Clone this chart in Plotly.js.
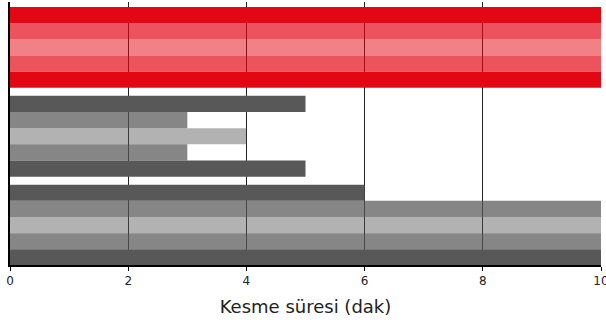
<!DOCTYPE html>
<html>
<head>
<meta charset="utf-8">
<script src="https://cdn.plot.ly/plotly-3.0.1.min.js"></script>
<style>html,body{margin:0;padding:0;background:#fff;}#chart{width:606px;height:326px;}</style>
</head>
<body>
<div id="chart"></div>
<script>
// Cutting time (minutes), three groups of five bars (top to bottom)
const groupRed = [10, 10, 10, 10, 10];
const groupGrayMid = [5, 3, 4, 3, 5];
const groupGrayLow = [6, 10, 10, 10, 10];
const xTicks = [0, 2, 4, 6, 8, 10];
const xTitle = 'Kesme süresi (dak)';

const redShades = ['rgb(227,6,19)', 'rgba(227,6,19,0.69)', 'rgba(227,6,19,0.51)', 'rgba(227,6,19,0.69)', 'rgb(227,6,19)'];
const grayShades = ['rgb(88,88,88)', 'rgba(88,88,88,0.72)', 'rgba(88,88,88,0.46)', 'rgba(88,88,88,0.72)', 'rgb(88,88,88)'];

const groups = [
  {vals: groupRed, colors: redShades},
  {vals: groupGrayMid, colors: grayShades},
  {vals: groupGrayLow, colors: grayShades}
];

const traces = groups.map((g, gi) => ({
  type: 'bar',
  orientation: 'h',
  x: g.vals,
  y: g.vals.map((v, i) => gi * 5.5 + i),
  width: g.vals.map(() => 1),
  marker: {color: g.colors, line: {width: 0}},
  hoverinfo: 'none',
  showlegend: false
}));

const layout = {
  width: 606, height: 326,
  margin: {l: 10, r: 5, t: 2, b: 61},
  paper_bgcolor: '#fff', plot_bgcolor: '#fff',
  font: {family: 'DejaVu Sans', color: '#222'},
  barmode: 'overlay',
  xaxis: {
    range: [0, 10],
    tickvals: xTicks,
    ticktext: xTicks.map(String),
    ticklabeloverflow: 'allow',
    showgrid: true, gridcolor: '#222', gridwidth: 1,
    zeroline: false,
    showline: true, linecolor: '#000', linewidth: 2,
    ticks: 'outside', ticklen: 4, tickcolor: '#000', tickwidth: 1,
    tickfont: {size: 12, color: '#222'},
    title: {text: xTitle, font: {size: 18, color: '#222'}, standoff: 13}
  },
  yaxis: {
    range: [15.47, -0.81],
    showticklabels: false, ticks: '',
    showgrid: false, zeroline: false,
    showline: true, linecolor: '#000', linewidth: 2
  }
};

Plotly.newPlot('chart', traces, layout, {displayModeBar: false, staticPlot: true});
</script>
</body>
</html>
